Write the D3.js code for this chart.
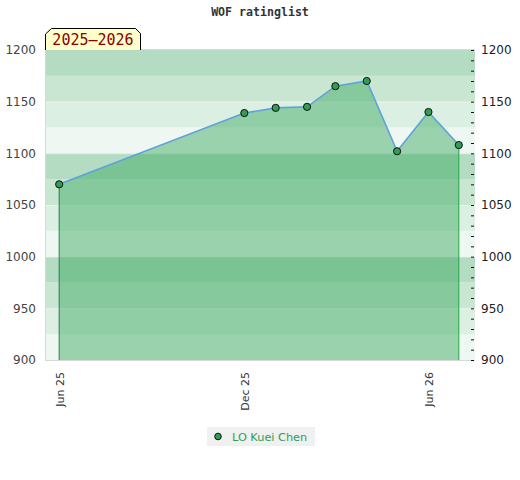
<!DOCTYPE html>
<html>
<head>
<meta charset="utf-8">
<script src="https://cdn.jsdelivr.net/npm/d3@7"></script>
<style>
  body { margin: 0; background: #fff; }
  text { font-family: "DejaVu Sans", sans-serif; }
</style>
</head>
<body>
<div id="chart"></div>
<script>
// rating list dates and ratings
var dates = ["2025-06-01", "2025-12-01", "2026-01-01", "2026-02-01", "2026-03-01",
             "2026-04-01", "2026-05-01", "2026-06-01", "2026-07-01"];
var ratings = [1070, 1139, 1144, 1145, 1165, 1170, 1102, 1140, 1108];
var xTicks = ["2025-06-01", "2025-12-01", "2026-06-01"];
var xTickLabels = ["Jun 25", "Dec 25", "Jun 26"];
var yTicks = [900, 950, 1000, 1050, 1100, 1150, 1200];
var bandColors = ["#eef7f1", "#dcefe3", "#c9e6d3", "#b3dcc2"];
var playerName = "LO Kuei Chen";
var seasonLabel = "2025\u20132026";

var width = 520, height = 480;
var margin = {top: 50, right: 45, bottom: 120, left: 45};
var parse = d3.timeParse("%Y-%m-%d");
var fmt = d3.format("d");

var data = dates.map(function (d, i) { return {date: parse(d), value: ratings[i]}; });

var svg = d3.select("#chart").append("svg")
  .attr("width", width)
  .attr("height", height);

var x = d3.scaleTime()
  .domain([parse("2025-05-18"), parse("2026-07-17")])
  .range([margin.left, width - margin.right]);

var y = d3.scaleLinear()
  .domain([900, 1200])
  .range([height - margin.bottom, margin.top]);

// background bands every 25 points
var bands = d3.range(900, 1200, 25);
svg.append("g").selectAll("rect")
  .data(bands)
  .join("rect")
    .attr("x", margin.left)
    .attr("width", width - margin.left - margin.right)
    .attr("y", function (d) { return y(d + 25); })
    .attr("height", function (d) { return y(d) - y(d + 25); })
    .attr("fill", function (d, i) { return bandColors[i % 4]; });

// faint grid at major ticks
svg.append("g").selectAll("line")
  .data(yTicks.slice(1, -1))
  .join("line")
    .attr("x1", margin.left)
    .attr("x2", width - margin.right)
    .attr("y1", function (d) { return y(d) + 0.5; })
    .attr("y2", function (d) { return y(d) + 0.5; })
    .attr("stroke", "#ffffff")
    .attr("stroke-opacity", 0.35);

// plot border (left, top, bottom)
svg.append("path")
  .attr("d", "M" + (margin.left + 0.5) + "," + (height - margin.bottom + 0.5) +
             "V" + (margin.top - 0.5) + "H" + (width - margin.right) +
             "M" + (margin.left) + "," + (height - margin.bottom + 0.5) + "H" + (width - margin.right))
  .attr("fill", "none")
  .attr("stroke", "#d8d8d8");

// area under the rating line
var area = d3.area()
  .x(function (d) { return x(d.date); })
  .y0(y(900))
  .y1(function (d) { return y(d.value); });

svg.append("path")
  .datum(data)
  .attr("d", area)
  .attr("fill", "#3da963")
  .attr("fill-opacity", 0.48);

var first = data[0], last = data[data.length - 1];
svg.append("line")
  .attr("x1", x(first.date)).attr("x2", x(first.date))
  .attr("y1", y(first.value)).attr("y2", y(900))
  .attr("stroke", "#2e7d46");
svg.append("line")
  .attr("x1", x(last.date)).attr("x2", x(last.date))
  .attr("y1", y(last.value)).attr("y2", y(900))
  .attr("stroke", "#22aa44");

var line = d3.line()
  .x(function (d) { return x(d.date); })
  .y(function (d) { return y(d.value); });

svg.append("path")
  .datum(data)
  .attr("d", line)
  .attr("fill", "none")
  .attr("stroke", "#5ea2dc")
  .attr("stroke-width", 1.6);

svg.append("g").selectAll("circle")
  .data(data)
  .join("circle")
    .attr("cx", function (d) { return x(d.date); })
    .attr("cy", function (d) { return y(d.value); })
    .attr("r", 3.6)
    .attr("fill", "#2e9e55")
    .attr("stroke", "#111")
    .attr("stroke-width", 1);

// left axis: labels only
var yLeft = svg.append("g")
  .attr("transform", "translate(" + margin.left + ",0)")
  .call(d3.axisLeft(y).tickValues(yTicks).tickSize(0).tickPadding(9).tickFormat(fmt));
yLeft.select(".domain").remove();
yLeft.selectAll("text")
  .attr("fill", "#444")
  .style("font-size", "12px");

// right axis: minor ticks every 10, labels at 50
var yRight = svg.append("g")
  .attr("transform", "translate(" + (width - margin.right) + ",0)")
  .call(d3.axisLeft(y).tickValues(d3.range(900, 1201, 10)).tickSize(3).tickFormat(""));
yRight.select(".domain").remove();
yRight.selectAll("line").attr("stroke", "#111").attr("transform", "translate(-1,0)");

var yRightLab = svg.append("g")
  .attr("transform", "translate(" + (width - margin.right) + ",0)")
  .call(d3.axisRight(y).tickValues(yTicks).tickSize(0).tickPadding(6).tickFormat(fmt));
yRightLab.select(".domain").remove();
yRightLab.selectAll("text")
  .attr("fill", "#222")
  .style("font-size", "12px");

// x axis: rotated labels
var xAxis = svg.append("g")
  .attr("transform", "translate(0," + (height - margin.bottom) + ")")
  .call(d3.axisBottom(x)
    .tickValues(xTicks.map(parse))
    .tickSize(0)
    .tickFormat(function (d, i) { return xTickLabels[i]; }));
xAxis.select(".domain").remove();
xAxis.selectAll("text")
  .attr("fill", "#333")
  .style("font-size", "11px")
  .attr("text-anchor", "end")
  .attr("transform", "rotate(-90)")
  .attr("x", -12)
  .attr("y", 0)
  .attr("dy", "0.35em");

// title
svg.append("text")
  .attr("x", width / 2)
  .attr("y", 16)
  .attr("text-anchor", "middle")
  .style("font-family", "'DejaVu Sans Mono', monospace")
  .style("font-weight", "bold")
  .style("font-size", "11.6px")
  .attr("fill", "#333")
  .text("WOF ratinglist");

// season label tab
var tab = svg.append("g");
tab.append("path")
  .attr("d", "M45.5,50V34L51.5,28.5H135.5L140.5,33.5V50")
  .attr("fill", "#ffffcc")
  .attr("stroke", "#000");
tab.append("text")
  .attr("x", 93)
  .attr("y", 45)
  .attr("text-anchor", "middle")
  .style("font-family", "'DejaVu Sans Mono', monospace")
  .style("font-size", "15px")
  .attr("fill", "#8b0000")
  .text(seasonLabel);

// legend
var legend = svg.append("g").attr("transform", "translate(207,427)");
legend.append("rect")
  .attr("width", 108)
  .attr("height", 19)
  .attr("fill", "#f0f0f0");
legend.append("circle")
  .attr("cx", 11).attr("cy", 9.5).attr("r", 3.3)
  .attr("fill", "#2e9e55").attr("stroke", "#111");
legend.append("text")
  .attr("x", 25).attr("y", 13.5)
  .style("font-size", "11.3px")
  .attr("fill", "#2ca05a")
  .text(playerName);
</script>
</body>
</html>
